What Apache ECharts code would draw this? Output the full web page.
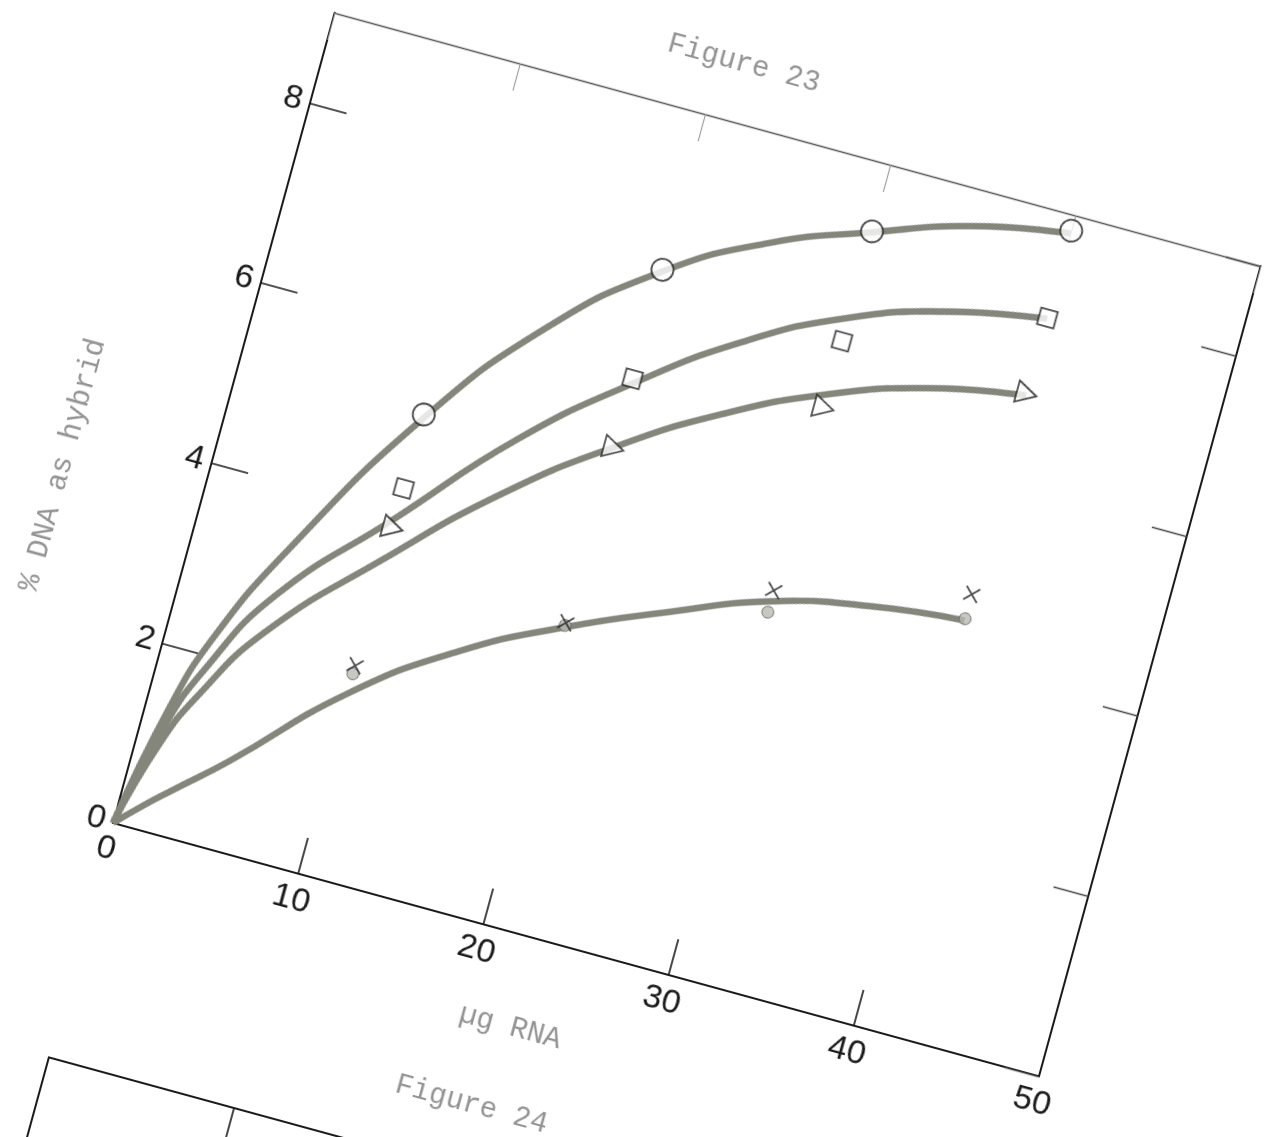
<!DOCTYPE html>
<html><head><meta charset="utf-8">
<script src="https://cdn.jsdelivr.net/npm/echarts@6/dist/echarts.min.js"></script>
<style>
html,body{margin:0;padding:0;width:1264px;height:1137px;overflow:hidden;background:#fff}
#chart{position:absolute;left:-87px;top:-117px;width:1400px;height:1500px;transform-origin:200px 940px;transform:rotate(15.3deg)}
</style></head><body><div id="chart"></div>
<script>
// ---- data ----
const xTickValues = [0, 10, 20, 30, 40, 50];       // µg RNA
const yTickValues = [0, 2, 4, 6, 8];               // % DNA as hybrid
const pointX = [10, 20, 30, 40];
const circleY   = [5.10, 7.27, 8.26, 8.83];
const squareY   = [4.28, 6.06, 7.04, 7.86];
const triangleY = [3.84, 5.29, 6.30, 7.02];
const dotY      = [2.22, 3.32, 4.03, 4.52];
const crossY    = [2.31, 3.35, 4.27, 4.79];
// hand-drawn curves, values
const curveX        = [0, 1.25, 2.5, 5, 10, 15, 20, 25, 30, 35, 40];
const circleCurve   = [0, 1.35, 2.2, 3.3, 5.05, 6.35, 7.25, 7.85, 8.25, 8.6, 8.8];
const squareCurve   = [0, 1.15, 1.85, 2.8, 3.95, 5.1, 6.0, 6.75, 7.3, 7.65, 7.85];
const triangleCurve = [0, 0.95, 1.55, 2.4, 3.5, 4.5, 5.3, 5.95, 6.45, 6.8, 7.0];
const dotCurve      = [0, 0.26, 0.5, 0.97, 2.0, 2.75, 3.3, 3.75, 4.15, 4.38, 4.5];

const pairs = (xs, ys) => xs.map((x, i) => [x, ys[i]]);
const tickFont = {fontFamily: 'Liberation Sans', fontSize: 34, color: '#1a1a1a'};
const typeFont = {fontFamily: 'Liberation Mono', fontSize: 29, color: '#939393', fontWeight: 'normal'};
const curveStyle = {color: '#84867c', width: 6.5};
const hollow = {color: '#ffffff', borderColor: '#1e1e1e', borderWidth: 1.8};

const chart = echarts.init(document.getElementById('chart'), null, {renderer: 'canvas'});
chart.setOption({
  backgroundColor: 'transparent',
  animation: false,
  title: [
    {text: 'Figure 23', left: 603, top: 22, textAlign: 'center', textStyle: typeFont},
    {text: 'Figure 24', left: 615, top: 1098, textAlign: 'center', textStyle: typeFont}
  ],
  grid: [
    {left: 200, top: 100, width: 960, height: 840},
    {left: 200, top: 1183, width: 960, height: 300}
  ],
  xAxis: [
    {gridIndex: 0, type: 'value', min: xTickValues[0], max: xTickValues[xTickValues.length - 1], interval: 10, position: 'bottom',
     name: 'µg RNA', nameLocation: 'middle', nameGap: 78,
     nameTextStyle: Object.assign({padding: [0, 86, 0, 0]}, typeFont),
     axisLine: {show: true, onZero: false, lineStyle: {color: '#1a1a1a', width: 2}},
     axisTick: {show: true, inside: true, length: 37, lineStyle: {color: '#1a1a1a', width: 1.6}},
     axisLabel: Object.assign({margin: 10}, tickFont),
     splitLine: {show: false}},
    {gridIndex: 0, type: 'value', min: 0, max: 50, interval: 10, position: 'top',
     axisLine: {show: true, onZero: false, lineStyle: {color: '#555', width: 1.4}},
     axisTick: {show: true, inside: true, length: 28, lineStyle: {color: '#999', width: 1.1}},
     axisLabel: {show: false}, splitLine: {show: false}},
    {gridIndex: 1, type: 'value', min: 0, max: 50, interval: 10, position: 'top',
     axisLine: {show: true, onZero: false, lineStyle: {color: '#1a1a1a', width: 2}},
     axisTick: {show: false}, axisLabel: {show: false},
     splitLine: {show: true, lineStyle: {color: '#1a1a1a', width: 1.6}}}
  ],
  yAxis: [
    {gridIndex: 0, type: 'value', min: yTickValues[0], max: 9, interval: 2, position: 'left',
     name: '% DNA as hybrid', nameLocation: 'middle', nameGap: 128,
     nameTextStyle: Object.assign({padding: [0, 176, 0, 0]}, typeFont),
     axisLine: {show: true, onZero: false, lineStyle: {color: '#1a1a1a', width: 2}},
     axisTick: {show: true, inside: true, length: 38, lineStyle: {color: '#1a1a1a', width: 1.6}},
     axisLabel: Object.assign({margin: 8, showMaxLabel: false}, tickFont),
     splitLine: {show: false}},
    {gridIndex: 0, type: 'value', min: 0, max: 9, interval: 2, position: 'right',
     axisLine: {show: true, onZero: false, lineStyle: {color: '#1a1a1a', width: 2}},
     axisTick: {show: true, inside: true, length: 36, lineStyle: {color: '#444', width: 1.4}},
     axisLabel: {show: false}, splitLine: {show: false}},
    {gridIndex: 1, type: 'value', min: 0, max: 1, position: 'left',
     axisLine: {show: true, onZero: false, lineStyle: {color: '#1a1a1a', width: 2}},
     axisTick: {show: false}, axisLabel: {show: false}, splitLine: {show: false}}
  ],
  series: [
    {type: 'line', name: 'circle curve', data: pairs(curveX, circleCurve), smooth: 0.5, symbol: 'none', lineStyle: curveStyle, z: 2},
    {type: 'line', name: 'square curve', data: pairs(curveX, squareCurve), smooth: 0.5, symbol: 'none', lineStyle: curveStyle, z: 2},
    {type: 'line', name: 'triangle curve', data: pairs(curveX, triangleCurve), smooth: 0.5, symbol: 'none', lineStyle: curveStyle, z: 2},
    {type: 'line', name: 'dot curve', data: pairs(curveX, dotCurve), smooth: 0.5, symbol: 'none', lineStyle: curveStyle, z: 2},
    {type: 'scatter', name: 'circles', data: pairs(pointX, circleY), symbol: 'circle', symbolSize: 22, itemStyle: hollow, z: 5},
    {type: 'scatter', name: 'squares', data: pairs(pointX, squareY), symbol: 'rect', symbolSize: 17, itemStyle: hollow, z: 5},
    {type: 'scatter', name: 'triangles', data: pairs(pointX, triangleY), symbol: 'triangle', symbolSize: [22, 20], symbolRotate: -90, itemStyle: hollow, z: 5},
    {type: 'scatter', name: 'dots', data: pairs(pointX, dotY), symbol: 'circle', symbolSize: 12, itemStyle: {color: '#b9bab2', borderColor: '#5a5a5a', borderWidth: 1}, z: 5},
    {type: 'scatter', name: 'crosses', data: pairs(pointX, crossY), symbol: 'path://M0,0L10,10M10,0L0,10', symbolSize: 14, itemStyle: {color: 'none', borderColor: '#1e1e1e', borderWidth: 1.8}, z: 6}
  ]
});
</script></body></html>
